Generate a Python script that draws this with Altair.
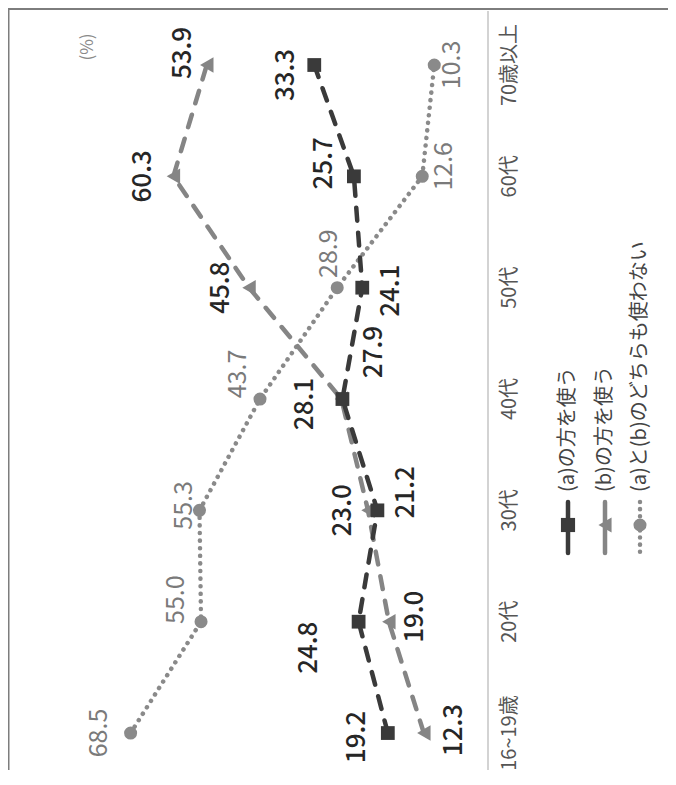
import altair as alt
import pandas as pd

categories = ["16~19歳", "20代", "30代", "40代", "50代", "60代", "70歳以上"]
series_names = ["(a)の方を使う", "(b)の方を使う", "(a)と(b)のどちらも使わない"]
values_a = [19.2, 24.8, 21.2, 27.9, 24.1, 25.7, 33.3]
values_b = [12.3, 19.0, 23.0, 28.1, 45.8, 60.3, 53.9]
values_c = [68.5, 55.0, 55.3, 43.7, 28.9, 12.6, 10.3]
unit_text = "(%)"

# ---- layout (label offsets in screen px, right/down positive) ----
label_dx_a = [-31, -50, 29, 32, 29, -30, -28]
label_dy_a = [4, 26, -18, -47, 3, -13, 10]
label_dx_b = [30, 26, -25, -36, -28, -30, -24]
label_dy_b = [-3, -5, 0, 5, 0, 0, -12]
label_dx_c = [-32, -25, -15, -22, -8, 22, 18]
label_dy_c = [0, -22, -5, -25, -34, -10, 0]

W, H = 660, 762
PX_X = 480 / 92.0                 # pixels per percentage point
XMAX = 92.0
XMIN = XMAX - W / PX_X            # value axis zero sits 480px from the left
YMIN, YMAX = -0.332, 6.512
PX_Y = H / (YMAX - YMIN)
CAT_LABEL_OFFSET = 22             # px right of the zero line

FONT = "Noto Sans CJK JP"
DARK = "#3a3a3a"
MID = "#858585"
LIGHT = "#8a8a8a"


def make_df(vals, dxs, dys, key):
    rows = []
    for i, v in enumerate(vals):
        rows.append({
            "s": key, "i": i, "v": v,
            "lx": v - dxs[i] / PX_X,
            "ly": i - dys[i] / PX_Y,
            "t": f"{v:.1f}",
        })
    return pd.DataFrame(rows)


df_a = make_df(values_a, label_dx_a, label_dy_a, "a")
df_b = make_df(values_b, label_dx_b, label_dy_b, "b")
df_c = make_df(values_c, label_dx_c, label_dy_c, "c")
df_cat = pd.DataFrame({
    "i": list(range(len(categories))),
    "name": categories,
    "v": [-CAT_LABEL_OFFSET / PX_X] * len(categories),
})

xscale = alt.Scale(domain=[XMIN, XMAX], reverse=True, nice=False, zero=False)
yscale = alt.Scale(domain=[YMIN, YMAX], nice=False, zero=False)


def X(f):
    return alt.X(f"{f}:Q", scale=xscale, axis=None)


def Y(f):
    return alt.Y(f"{f}:Q", scale=yscale, axis=None)


def series_layers(df, color, dash, shape, size, tcolor, tsize, tweight):
    line = alt.Chart(df).mark_line(
        color=color, strokeWidth=4.5, strokeDash=dash, strokeCap="round"
    ).encode(x=X("v"), y=Y("i"), order=alt.Order("i:Q"))
    pts = alt.Chart(df).mark_point(
        shape=shape, size=size, filled=True, opacity=1, color=color
    ).encode(x=X("v"), y=Y("i"))
    txt = alt.Chart(df).mark_text(
        angle=270, align="center", baseline="middle", font=FONT,
        fontSize=tsize, fontWeight=tweight, color=tcolor
    ).encode(x=X("lx"), y=Y("ly"), text="t:N")
    return [line, pts, txt]


layers = []
layers += series_layers(df_c, LIGHT, [0.1, 7.5], "circle", 170, "#7a7a7a", 25, "normal")
layers += series_layers(df_b, MID, [13, 12], "triangle-left", 240, "#262626", 26, 500)
layers += series_layers(df_a, DARK, [13, 12], "square", 190, "#262626", 26, 500)

one = pd.DataFrame({"k": [0]})
zero_df = pd.DataFrame({"v": [0.0]})

frame_top = alt.Chart(one).mark_rule(color="#7d7d7d", strokeWidth=2).encode(
    x=alt.value(0), x2=alt.value(W), y=alt.value(1))
frame_left = alt.Chart(one).mark_rule(color="#7d7d7d", strokeWidth=1.5).encode(
    x=alt.value(0.75), y=alt.value(1), y2=alt.value(H))
zero_line = alt.Chart(zero_df).mark_rule(color="#c4c4c4", strokeWidth=1.5).encode(
    x=X("v"), y=alt.value(3), y2=alt.value(H))
cat_labels = alt.Chart(df_cat).mark_text(
    angle=270, align="center", baseline="middle", font=FONT, fontSize=20,
    color="#555555").encode(x=X("v"), y=Y("i"), text="name:N")
unit = alt.Chart(one).mark_text(
    angle=270, align="center", baseline="middle", font=FONT, fontSize=17,
    color="#8a8a8a").encode(x=alt.value(80), y=alt.value(39), text=alt.value(unit_text))

# ---- legend (drawn manually, rotated like the chart) ----
leg_x = [560, 597, 632]
leg_y0, leg_y1, leg_mid, leg_text_y = 494, 545, 517, 484
leg_styles = [
    (DARK, None, "square", 200),
    (MID, None, "triangle-left", 230),
    (LIGHT, [0.1, 7], "circle", 170),
]
legend_layers = []
for k, name in enumerate(series_names):
    color, dash, shape, size = leg_styles[k]
    rule_kw = dict(color=color, strokeWidth=4.5, strokeCap="round")
    if dash:
        rule_kw["strokeDash"] = dash
    legend_layers.append(alt.Chart(one).mark_rule(**rule_kw).encode(
        x=alt.value(leg_x[k]), y=alt.value(leg_y0), y2=alt.value(leg_y1)))
    legend_layers.append(alt.Chart(one).mark_point(
        shape=shape, size=size, filled=True, opacity=1, color=color).encode(
        x=alt.value(leg_x[k]), y=alt.value(leg_mid)))
    legend_layers.append(alt.Chart(one).mark_text(
        angle=270, align="left", baseline="middle", font=FONT, fontSize=20,
        color="#444444").encode(
        x=alt.value(leg_x[k]), y=alt.value(leg_text_y), text=alt.value(name)))

chart = alt.layer(
    frame_top, frame_left, zero_line, cat_labels, unit, *layers, *legend_layers
).properties(
    width=W, height=H, padding=0,
    autosize=alt.AutoSizeParams(type="none"),
).configure_view(stroke=None)

chart.save("out.html", embed_options={"renderer": "svg", "actions": False})
